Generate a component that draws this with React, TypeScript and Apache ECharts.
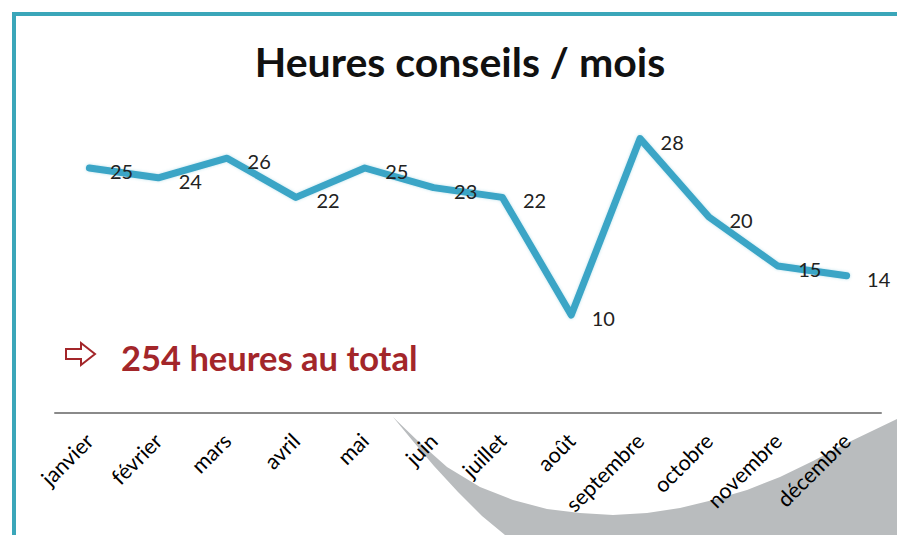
import React, { useEffect, useRef } from "react";
import * as echarts from "echarts";

const months = [
  "janvier", "février", "mars", "avril", "mai", "juin",
  "juillet", "août", "septembre", "octobre", "novembre", "décembre",
];
const hours = [25, 24, 26, 22, 25, 23, 22, 10, 28, 20, 15, 14];
const titleText = "Heures conseils / mois";
const totalText = "254 heures au total";

export default function App() {
  const ref = useRef<HTMLDivElement>(null);
  useEffect(() => {
    if (!ref.current) return;
    const chart = echarts.init(ref.current, null, { renderer: "svg" });
    const swoosh = [
      [393, 417], [420, 443], [447, 467], [480, 487], [513, 500], [547, 509],
      [580, 513], [613, 515], [647, 513], [680, 508], [713, 500], [747, 490],
      [780, 477], [813, 461], [847, 443], [872, 431], [897, 419],
      [897, 535], [505, 535], [482, 516], [458, 492], [434, 466], [412, 440],
    ];
    chart.setOption({
      animation: false,
      backgroundColor: "#ffffff",
      grid: { left: 55, right: 16, top: 119, bottom: 122, containLabel: false },
      xAxis: {
        type: "category",
        data: months,
        boundaryGap: true,
        axisLine: { show: true, lineStyle: { color: "#8a8a8a", width: 2 } },
        axisTick: { show: false },
        axisLabel: {
          rotate: 45,
          margin: 24,
          interval: 0,
          color: "#000",
          fontSize: 21.5,
          fontFamily: "Lato",
        },
      },
      yAxis: {
        type: "value",
        min: 0,
        max: 30,
        show: false,
        splitLine: { show: false },
      },
      series: [
        {
          type: "line",
          data: hours,
          symbol: "circle",
          symbolSize: 1,
          showSymbol: true,
          itemStyle: { color: "rgba(0,0,0,0)" },
          lineStyle: {
            color: "#3aa5c6",
            width: 7,
            cap: "round",
            join: "round",
            shadowColor: "rgba(58,165,198,0.35)",
            shadowBlur: 3,
          },
          label: {
            show: true,
            position: "right",
            distance: 20,
            offset: [0, 3],
            color: "#222",
            fontSize: 20,
            fontFamily: "Lato",
          },
          z: 5,
        },
      ],
      graphic: [
        {
          type: "polygon",
          z: -10,
          silent: true,
          shape: { points: swoosh },
          style: { fill: "#b9bcbe" },
        },
        {
          type: "line",
          z: 10,
          shape: { x1: 12, y1: 14, x2: 897, y2: 14 },
          style: { stroke: "#3aa6b9", lineWidth: 4 },
        },
        {
          type: "line",
          z: 10,
          shape: { x1: 14, y1: 12, x2: 14, y2: 535 },
          style: { stroke: "#3aa6b9", lineWidth: 4 },
        },
        {
          type: "text",
          x: 460,
          y: 61,
          style: {
            text: titleText,
            fill: "#111",
            font: "bold 41px Lato",
            align: "center",
            verticalAlign: "middle",
          },
        },
        {
          type: "polygon",
          shape: {
            points: [
              [66, 349], [81, 349], [81, 343], [95, 354], [81, 365], [81, 359], [66, 359],
            ],
          },
          style: { fill: "#ffffff", stroke: "#a3262a", lineWidth: 2 },
        },
        {
          type: "text",
          x: 121,
          y: 357,
          style: {
            text: totalText,
            fill: "#a3262a",
            font: "bold 34.5px Lato",
            align: "left",
            verticalAlign: "middle",
          },
        },
      ],
    });
    return () => chart.dispose();
  }, []);
  return (
    <div
      ref={ref}
      style={{ position: "fixed", left: 0, top: 0, width: 897, height: 535 }}
    />
  );
}
